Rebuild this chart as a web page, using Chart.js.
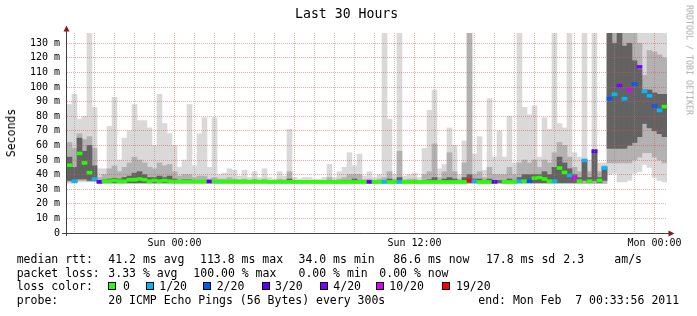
<!DOCTYPE html>
<html><head><meta charset="utf-8">
<script src="https://cdn.jsdelivr.net/npm/chart.js@4/dist/chart.umd.min.js"></script>
<style>
html,body{margin:0;padding:0;background:#fff;}
#wrap{position:relative;width:697px;height:316px;overflow:hidden;font-family:"DejaVu Sans Mono",monospace;color:#000;}
canvas{position:absolute;left:0;top:0;}
.t{position:absolute;white-space:pre;line-height:12px;font-size:11.5px;}
#title{position:absolute;left:295px;top:7px;font-size:13.2px;line-height:14px;white-space:pre;}
#ylab{position:absolute;left:10.5px;top:133px;font-size:11.5px;line-height:12px;white-space:pre;transform:translate(-50%,-50%) rotate(-90deg);}
#wm{position:absolute;left:688.5px;top:60px;font-size:8.3px;line-height:9px;white-space:pre;color:#aaaaaa;transform:translate(-50%,-50%) rotate(90deg);}
.sq{position:absolute;width:6px;height:6px;border:1px solid #000;}
</style></head><body>
<div id="wrap">
<canvas id="c" width="697" height="316"></canvas>
<div id="title">Last 30 Hours</div>
<div id="ylab">Seconds</div>
<div id="wm">RRDTOOL / TOBI OETIKER</div>
</div>
<script>
// ---- sampling (15 min per sample, 120 samples over 30 h) ----
const sampleStartHour = 18.625;   // hours since Sat 00:00 at left edge
const sampleStepHours = 0.25;
const sampleCount = 120;
const dayNames = ['Sat','Sun','Mon'];
const categories = [];
for (let i = 0; i < sampleCount; i++) {
  const h = sampleStartHour + i * sampleStepHours;
  const d = Math.floor(h / 24), hh = Math.floor(h % 24), mm = Math.round((h % 1) * 60);
  categories.push(dayNames[d] + ' ' + String(hh).padStart(2,'0') + ':' + String(mm).padStart(2,'0'));
}

// ---- smoke (ms) ----
const maxRtt = [
 88,95,78,80,137,86,44,44,73,93,
 50,65,70,88,77,77,72,60,95,75,
 68,60,45,50,88,46,68,79,45,79,
 40,41,44,43,39,43,38,42,38,44,
 38,37,42,39,71,38,37,38,38,37,
 37,38,47,38,42,45,55,46,54,39,
 42,38,40,137,78,40,137,39,40,41,
 38,58,84,98,44,47,72,60,40,63,
 137,54,66,43,92,52,70,52,80,48,
 137,86,81,87,52,79,71,137,75,72,
 137,55,52,137,50,137,48,48,137,137,
 137,137,137,137,137,137,137,137,137,137];
const minRtt = [
 34,34,35,35,35,35,34,34,34,34,
 34,34,34,34,34,34,34,34,34,34,
 34,34,34,34,34,34,34,34,34,34,
 34,34,34,34,34,34,34,34,34,34,
 34,34,34,34,34,34,34,34,34,34,
 34,34,34,34,34,34,34,34,34,34,
 34,34,34,34,34,34,34,34,34,34,
 34,34,34,34,34,34,34,34,34,34,
 34,34,34,34,34,34,34,34,34,34,
 34,34,34,34,34,34,34,34,34,34,
 34,34,34,34,34,34,34,34,40,41,
 35,35,36,41,42,47,45,38,36,35];
const midHigh = [
 62,58,68,64,66,58,38,40,44,46,
 42,45,48,52,50,48,45,44,48,46,
 47,42,39,40,40,38,39,39,37,38,
 37,37,38,37,36.5,37,36,37,36,37,
 36,36,37,36.5,42,36,36,36,36,36,
 36,36,38,36,37,38,40,40,40,36.5,
 37,36,37,38,42,37,56,36.5,37,37,
 36,40,42,61,38,42,55,42,37,48,
 137,40,42,38,45,40,40,40,45,40,
 48,50,48,50,45,50,48,55,62,60,
 52,45,42,50,42,57,42,46,137,137,
 137,137,137,137,130,108,125,124,122,120];
const midLow = [
 35,34.5,36,36,35.5,35.5,34,34,34,34,
 34,34,34,34,34,34,34,34,34,34,
 34,34,34,34,34,34,34,34,34,34,
 34,34,34,34,34,34,34,34,34,34,
 34,34,34,34,34,34,34,34,34,34,
 34,34,34,34,34,34,34,34,34,34,
 34,34,34,34,34,34,34,34,34,34,
 34,34,34,34,34,34,34,34,34,34,
 34,34,34,34,34,34,34,34,34,34,
 34,34,34,34,34,34,34,34,34,34,
 34,34,34,34,34,34,34,34,48,48,
 48,48,48,50,52,55,55,52,50,48];
const darkHigh = [
 52,45,65,56,60,46,36,36.5,37,37.5,
 37,38,39,41,42,40,38,38,39,38,
 39,37,36,36.5,36.5,36,36,36,36,36,
 35.5,35.5,36,35.5,35.5,35.5,35.5,35.5,35.5,35.5,
 35.5,35.5,35.5,35.5,37,35.5,35.5,35.5,35.5,35.5,
 35.5,35.5,36,35.5,35.5,36,36,37,36,35.5,
 35.5,35.5,35.5,36,37,35.5,38,35.5,35.5,35.5,
 35.5,36,36.5,38,36,37,38,37,35.5,38,
 40,37,37,36,37,36,36,36,37,36,
 38,40,40,40,40,42,40,45,52,48,
 44,40,38,50,38,57,38,45,137,130,
 137,128,130,118,112,98,98,96,95,95];
const darkLow = [
 36,35,37,37,36,36,34.5,34.5,34.5,34.5,
 34.5,34.5,34.5,34.5,34.5,34.5,34.5,34.5,34.5,34.5,
 34.5,34.5,34.5,34.5,34.5,34.5,34.5,34.5,34.5,34.5,
 34.5,34.5,34.5,34.5,34.5,34.5,34.5,34.5,34.5,34.5,
 34.5,34.5,34.5,34.5,34.5,34.5,34.5,34.5,34.5,34.5,
 34.5,34.5,34.5,34.5,34.5,34.5,34.5,34.5,34.5,34.5,
 34.5,34.5,34.5,34.5,34.5,34.5,34.5,34.5,34.5,34.5,
 34.5,34.5,34.5,34.5,34.5,34.5,34.5,34.5,34.5,34.5,
 34.5,34.5,34.5,34.5,34.5,34.5,34.5,34.5,34.5,34.5,
 34.5,34.5,34.5,34.5,34.5,34.5,34.5,34.5,34.5,34.5,
 34.5,34.5,34.5,36,34.5,36,34.5,36,58,58,
 58,58,60,62,66,75,72,70,68,66];

// ---- median rtt (ms) and loss (pings lost of 20) ----
const medianRtt = [
 46.5,35.5,54.5,48,41.3,37,35,35.5,35.5,36,
 35.5,35.5,36.5,36.5,37,36.5,35.5,36,35.5,36,
 35.5,35.3,35.3,35.3,35.3,35.3,35.3,35.3,35.3,35.3,
 35.2,35.2,35.2,35.2,35.2,35.2,35.2,35.2,35.2,35.2,
 35.1,35.1,35.1,35.1,35.1,35.1,35.1,35.1,35.1,35.1,
 35,35,35,35,35,35,35,35,35,35,
 35,35,35,35,35,35,35,35,35,35,
 35,35,35,35,35,35,35,35,35,35,
 36,35.5,35,35,35,35,null,35,35,35,
 35.5,35.5,35.5,37.6,38,37,35.5,35.5,44.5,41.5,
 39.5,37.5,35.5,49.7,35.5,56,36,44.5,92,95,
 101,92,98,102,113.8,97,94,87,84,86.6];
const lossCount = [
 0,1,0,0,0,1,3,0,0,0,
 0,0,0,0,0,0,0,0,0,0,
 0,0,0,0,0,0,0,0,3,0,
 0,0,0,0,0,0,0,0,0,0,
 0,0,0,0,0,0,0,0,0,0,
 0,0,0,0,0,0,0,0,0,0,
 3,0,0,1,0,0,1,0,0,0,
 0,0,0,0,0,0,0,0,0,0,
 19,1,0,0,0,3,0,0,0,0,
 1,0,2,0,0,0,0,1,0,0,
 1,10,0,1,0,3,0,1,2,1,
 4,1,10,2,4,1,1,2,1,0];

// ---- loss colour legend ----
const lossLevels = [0,1,2,3,4,10,19];
const lossLabels = ['0','1/20','2/20','3/20','4/20','10/20','19/20'];
const lossColors = ['#26ff00','#00b8ff','#0059ff','#5e00ff','#7e00ff','#dd00ff','#ff0000'];

// ---- axis ticks ----
const rttTickValues = [0,5,10,15,20,25,30,35,40,45,50,55,60,65,70,75,80,85,90,95,100,105,110,115,120,125,130,135];
const hourTickValues = [19,20,21,22,23,24,25,26,27,28,29,30,31,32,33,34,35,36,37,38,39,40,41,42,43,44,45,46,47,48];
const timeLabelHours = [24,36,48];
const timeLabelText = ['Sun 00:00','Sun 12:00','Mon 00:00'];

// ---- legend text ----
const statRows = [
  [['median rtt:',16.7],['41.2 ms avg',108.3],['113.8 ms max',200],['34.0 ms min',298.5],['86.6 ms now',393.3],['17.8 ms sd',486],['2.3',563.3],['am/s',614.3]],
  [['packet loss:',16.7],['3.33 % avg',108.3],['100.00 % max',193.3],['0.00 % min',298.5],['0.00 % now',379.3]],
  [['loss color:',16.7]],
  [['probe:',16.7],['20 ICMP Echo Pings (56 Bytes) every 300s',108.3],['end: Mon Feb  7 00:33:56 2011',478.3]]
];
const rowTops = [253, 266.5, 280, 293.5];
const lossSquareX = [108.3,146,203.3,261.7,320,376,441.7];
const lossTextX = [123,159.3,216.7,275,333.3,389.3,456];

const wrap = document.getElementById('wrap');
function addText(txt, x, y) {
  const d = document.createElement('div'); d.className = 't';
  d.style.left = x + 'px'; d.style.top = y + 'px'; d.textContent = txt; wrap.appendChild(d);
}
statRows.forEach((row, r) => row.forEach(([txt, x]) => addText(txt, x, rowTops[r])));
lossLabels.forEach((lab, k) => {
  const s = document.createElement('div'); s.className = 'sq';
  s.style.left = lossSquareX[k] + 'px'; s.style.top = '282px'; s.style.background = lossColors[k];
  wrap.appendChild(s);
  addText(lab, lossTextX[k], rowTops[2]);
});

function colorForLoss(l) {
  let idx = 0;
  lossLevels.forEach((lv, k) => { if (l >= lv) idx = k; });
  return lossColors[idx];
}
const pair = (lo, hi) => lo.map((v, i) => [v, hi[i]]);
const medianBars = medianRtt.map(m => m == null ? null : [m - 1, m + 1]);
const medianColors = lossCount.map(colorForLoss);

const majorGrid = 'rgba(222,80,80,0.5)';
const minorGrid = 'rgba(143,143,143,0.5)';
const common = {grouped:false, barPercentage:1, categoryPercentage:1, borderWidth:0, xAxisID:'x', yAxisID:'y'};

const axisArrows = {
  id: 'axisArrows',
  afterDraw(chart) {
    const {ctx, chartArea: a} = chart;
    const y0 = Math.round(chart.scales.y.getPixelForValue(0)) + 0.5;
    const x0 = a.left - 0.5;
    ctx.save();
    ctx.strokeStyle = '#404040'; ctx.lineWidth = 1;
    ctx.beginPath();
    ctx.moveTo(a.left - 5, y0); ctx.lineTo(a.right + 2, y0);
    ctx.moveTo(x0, a.bottom + 3); ctx.lineTo(x0, a.top - 2);
    ctx.stroke();
    ctx.fillStyle = '#8b1a1a';
    ctx.beginPath();
    ctx.moveTo(x0, a.top - 7.5); ctx.lineTo(x0 - 3, a.top - 1.5); ctx.lineTo(x0 + 3, a.top - 1.5); ctx.closePath(); ctx.fill();
    ctx.beginPath();
    ctx.moveTo(a.right + 7.5, y0); ctx.lineTo(a.right + 1.5, y0 - 3); ctx.lineTo(a.right + 1.5, y0 + 3); ctx.closePath(); ctx.fill();
    ctx.restore();
  }
};

new Chart(document.getElementById('c').getContext('2d'), {
  type: 'bar',
  data: {
    labels: categories,
    datasets: [
      Object.assign({label:'median rtt', data: medianBars, backgroundColor: medianColors, order:0}, common),
      Object.assign({label:'smoke dark', data: pair(darkLow, darkHigh), backgroundColor:'#636363', order:1}, common),
      Object.assign({label:'smoke mid', data: pair(midLow, midHigh), backgroundColor:'#b2b2b2', order:2}, common),
      Object.assign({label:'smoke light', data: pair(minRtt, maxRtt), backgroundColor:'#d9d9d9', order:3}, common)
    ]
  },
  options: {
    responsive:false, animation:false, devicePixelRatio:1,
    layout:{padding:{top:33,right:30,bottom:0,left:0}},
    plugins:{legend:{display:false}, tooltip:{enabled:false}, title:{display:false}},
    scales:{
      x:{type:'category', display:false, offset:true, grid:{display:false}},
      xt:{type:'linear', position:'bottom', offset:false, bounds:'data',
        min:sampleStartHour, max:sampleStartHour + sampleCount*sampleStepHours,
        afterBuildTicks(s){ s.ticks = hourTickValues.map(v => ({value:v})); },
        afterFit(s){ s.height = 83; },
        grid:{z:1, offset:false, drawTicks:false, lineWidth:1, color: c => (c.tick && c.tick.value % 6 === 0) ? majorGrid : minorGrid},
        border:{display:false, dash:[1,1]},
        ticks:{autoSkip:false, maxRotation:0, minRotation:0, padding:4, color:'#000',
          font:{family:'DejaVu Sans Mono', size:10},
          callback: v => { const k = timeLabelHours.indexOf(v); return k >= 0 ? timeLabelText[k] : ''; }}
      },
      y:{type:'linear', min:0, max:137, offset:false,
        afterBuildTicks(s){ s.ticks = rttTickValues.map(v => ({value:v})); },
        afterFit(s){ s.width = 67; },
        grid:{z:1, offset:false, drawTicks:false, lineWidth:1, color: c => (c.tick && c.tick.value % 10 === 0) ? majorGrid : minorGrid},
        border:{display:false, dash:[1,1]},
        ticks:{padding:7, color:'#000', font:{family:'DejaVu Sans Mono', size:10},
          callback: v => v % 10 === 0 ? (v === 0 ? '0' : v + ' m') : ''}
      }
    }
  },
  plugins:[axisArrows]
});
</script>
</body></html>
